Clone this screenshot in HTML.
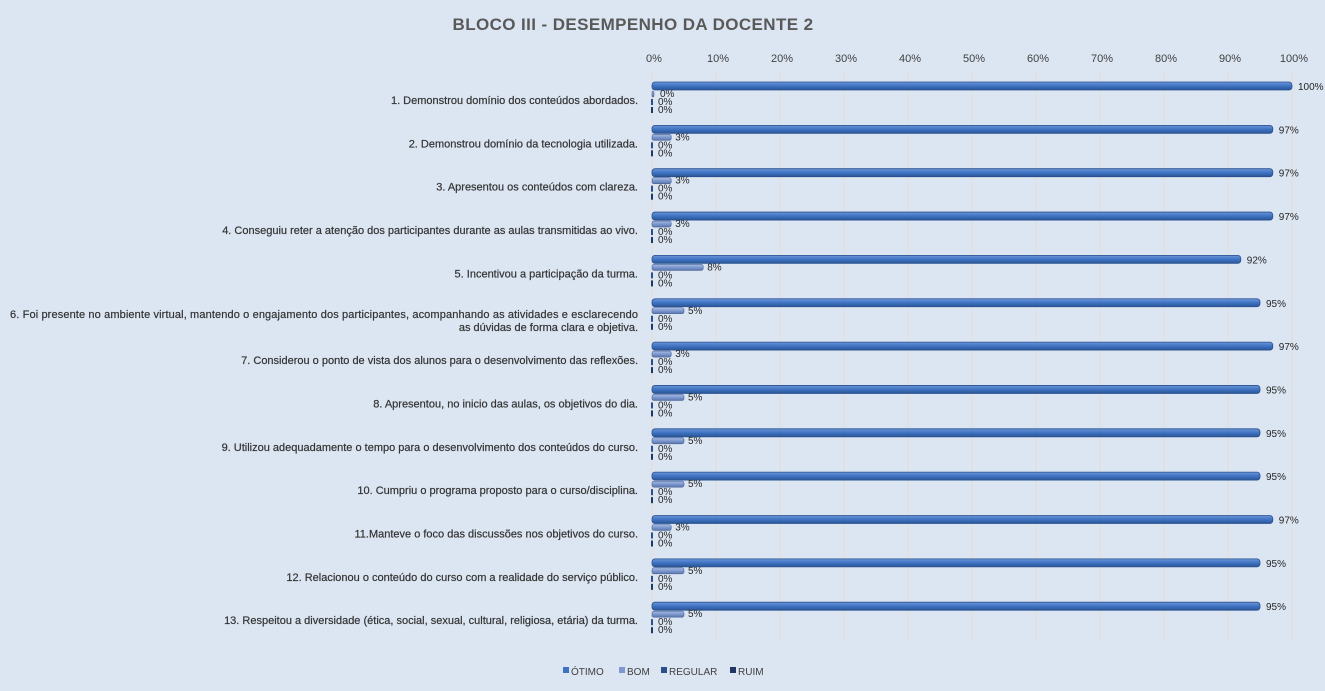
<!DOCTYPE html>
<html><head><meta charset="utf-8"><style>
body{margin:0;background:#dce6f2;}
svg{display:block;font-family:"Liberation Sans",sans-serif;}
</style></head><body>
<svg width="1325" height="691" xmlns="http://www.w3.org/2000/svg">
<defs>
<linearGradient id="g1" x1="0" y1="0" x2="0" y2="1"><stop offset="0" stop-color="#6b95d8"/><stop offset="0.5" stop-color="#3f73c2"/><stop offset="1" stop-color="#2a5596"/></linearGradient>
<linearGradient id="g2" x1="0" y1="0" x2="0" y2="1"><stop offset="0" stop-color="#a9bde3"/><stop offset="0.5" stop-color="#7d98cf"/><stop offset="1" stop-color="#5a76ac"/></linearGradient>
</defs>
<rect width="1325" height="691" fill="#dce6f2"/>
<text x="633" y="30" text-anchor="middle" font-size="17" font-weight="bold" fill="#595959" letter-spacing="0.4">BLOCO III - DESEMPENHO  DA DOCENTE 2</text>
<g id="grid" stroke="#e6d9d3" stroke-width="1"></g>
<g id="ax" font-size="11" fill="#404040" text-anchor="middle"></g>
<g id="rows"></g>
<g font-size="10" fill="#404040">
<rect x="563" y="667" width="6" height="6" fill="#3f73c2"/><text x="571" y="675">ÓTIMO</text>
<rect x="619" y="667" width="6" height="6" fill="#7d98cf"/><text x="627" y="675">BOM</text>
<rect x="661" y="667" width="6" height="6" fill="#2a4f8a"/><text x="669" y="675">REGULAR</text>
<rect x="730" y="667" width="6" height="6" fill="#1f3864"/><text x="738" y="675">RUIM</text>
</g>
</svg>
<script>
const NS="http://www.w3.org/2000/svg";
function el(p,t,a,txt){const e=document.createElementNS(NS,t);for(const k in a)e.setAttribute(k,a[k]);if(txt!==undefined)e.textContent=txt;p.appendChild(e);return e;}
const g=document.getElementById('grid'),ax=document.getElementById('ax'),rows=document.getElementById('rows');
const x0=652,s=6.4;
for(let i=0;i<=10;i++){const x=x0+i*64;el(g,'line',{x1:x,x2:x,y1:70,y2:640});el(ax,'text',{x:x+2,y:62},(i*10)+'%');}
const labels=["1. Demonstrou domínio dos conteúdos abordados.","2. Demonstrou domínio da tecnologia utilizada.","3. Apresentou os conteúdos com clareza.","4. Conseguiu reter a atenção dos participantes durante as aulas transmitidas ao vivo.","5. Incentivou a participação da turma.",["6. Foi presente no ambiente virtual, mantendo o engajamento dos participantes, acompanhando as atividades e esclarecendo","as dúvidas de forma clara e objetiva."],"7. Considerou o ponto de vista dos alunos para o desenvolvimento das reflexões.","8. Apresentou, no inicio das aulas, os objetivos do dia.","9. Utilizou adequadamente o tempo para o desenvolvimento dos conteúdos do curso.","10. Cumpriu o programa proposto para o curso/disciplina.","11.Manteve o foco das discussões nos objetivos do curso.","12. Relacionou o conteúdo do curso com a realidade do serviço público.","13. Respeitou a diversidade (ética, social, sexual, cultural, religiosa, etária) da turma."];
const ot=[100,97,97,97,92,95,97,95,95,95,97,95,95],bo=[0,3,3,3,8,5,3,5,5,5,3,5,5];
for(let r=0;r<13;r++){
 const y=86+r*43.35;
 const L=labels[r];
 const ta={'text-anchor':'end','font-size':11,fill:'#333',stroke:'#333','stroke-width':0.2};
 if(Array.isArray(L)){el(rows,'text',Object.assign({x:638,y:y+29-18+4},ta),L[0]).setAttribute('textLength',628);el(rows,'text',Object.assign({x:638,y:y+29-18+17},ta),L[1]);}
 else el(rows,'text',Object.assign({x:638,y:y+18},ta),L);
 const w=ot[r]*s;
 el(rows,'rect',{x:x0,y:y-4,width:w,height:8,rx:3,fill:'url(#g1)',stroke:'#2a5190','stroke-width':0.8});
 el(rows,'text',{x:x0+w+6,y:y+4,'font-size':10,fill:'#262626'},ot[r]+'%');
 const wb=Math.max(bo[r]*s,2);
 el(rows,'rect',{x:x0,y:y+5,width:wb,height:6,rx:2,fill:'url(#g2)',stroke:'#4a6599','stroke-width':0.6});
 el(rows,'text',{x:x0+wb+(bo[r]?4:6),y:y+11,'font-size':10,fill:'#262626'},bo[r]+'%');
 el(rows,'rect',{x:x0-1,y:y+13,width:2,height:6,fill:'#2a4f8a'});
 el(rows,'text',{x:658,y:y+19,'font-size':10,fill:'#262626'},'0%');
 el(rows,'rect',{x:x0-1,y:y+21,width:2,height:6,fill:'#1f3864'});
 el(rows,'text',{x:658,y:y+27,'font-size':10,fill:'#262626'},'0%');
}
</script>
</body></html>
